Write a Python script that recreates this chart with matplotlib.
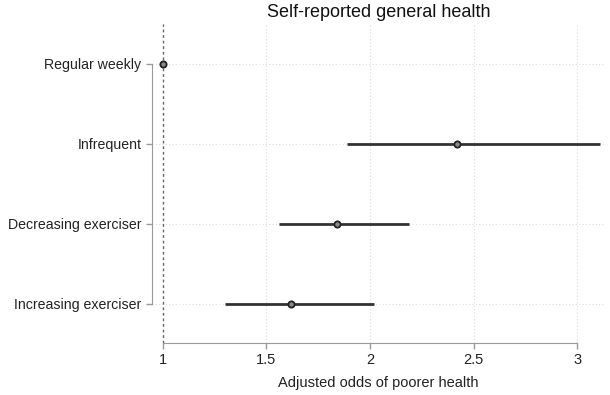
import numpy as np
import matplotlib.pyplot as plt

plt.rcParams['font.family'] = ['Liberation Sans', 'DejaVu Sans']

groups = ["Regular weekly", "Infrequent", "Decreasing exerciser", "Increasing exerciser"]
odds = [1.0, 2.42, 1.84, 1.62]
ci_low = [np.nan, 1.89, 1.56, 1.30]
ci_high = [np.nan, 3.11, 2.19, 2.02]

ypos = np.arange(len(groups))[::-1]

fig = plt.figure(figsize=(6.1, 3.95), dpi=100)
ax = fig.add_axes([152/610, 1 - 343/395, (605-152)/610, (343-24)/395])

ax.set_xlim(0.947, 3.135)
ax.set_ylim(-0.49, 3.5)

# grid
for xv in [1.5, 2, 2.5, 3]:
    ax.axvline(xv, color='#dcdcdc', lw=0.8, ls=(0, (1, 2)), zorder=0)
for yv in ypos:
    ax.axhline(yv, color='#dcdcdc', lw=0.8, ls=(0, (1, 2)), zorder=0)
ax.axvline(1, color='#666666', lw=1.0, ls=(0, (2, 2)), zorder=1)

for y, o, lo, hi in zip(ypos, odds, ci_low, ci_high):
    if not np.isnan(lo):
        ax.plot([lo, hi], [y, y], color='#333333', lw=2.0, zorder=2, solid_capstyle='butt')
    ax.plot(o, y, 'o', ms=4.5, mfc='#888888', mec='#222222', mew=1.3, zorder=3)

ax.set_yticks(ypos)
ax.set_yticklabels(groups, fontsize=10.2, color='#222222')
ax.set_xticks([1, 1.5, 2, 2.5, 3])
ax.set_xticklabels(["1", "1.5", "2", "2.5", "3"], fontsize=10.5, color='#222222')
ax.tick_params(colors='#999999', length=4, width=1)
ax.tick_params(axis='both', labelcolor='#222222')

for s in ['top', 'right']:
    ax.spines[s].set_visible(False)
ax.spines['left'].set_bounds(0, 3)
ax.spines['bottom'].set_bounds(1, 3)
ax.spines['left'].set_color('#999999')
ax.spines['bottom'].set_color('#999999')

ax.set_xlabel("Adjusted odds of poorer health", fontsize=10.5, color='#222222', labelpad=6)
ax.set_title("Self-reported general health", fontsize=13, color='#111111', pad=5)

fig.savefig("out.png", dpi=100)
